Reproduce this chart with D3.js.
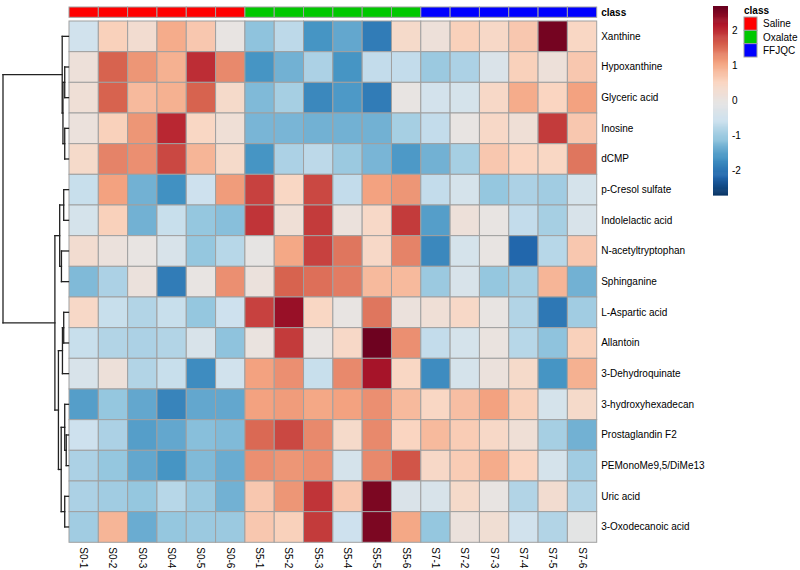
<!DOCTYPE html>
<html>
<head>
<meta charset="utf-8">
<script src="https://cdn.jsdelivr.net/npm/d3@7"></script>
<style>
  body { margin: 0; background: #fff; }
  text { font-family: "Liberation Sans", Arial, sans-serif; }
</style>
</head>
<body>
<svg id="chart" width="800" height="570"></svg>
<script>
// ---------------- data ----------------
const columns = ["S0-1","S0-2","S0-3","S0-4","S0-5","S0-6",
                 "S5-1","S5-2","S5-3","S5-4","S5-5","S5-6",
                 "S7-1","S7-2","S7-3","S7-4","S7-5","S7-6"];
const columnClass = ["Saline","Saline","Saline","Saline","Saline","Saline",
                     "Oxalate","Oxalate","Oxalate","Oxalate","Oxalate","Oxalate",
                     "FFJQC","FFJQC","FFJQC","FFJQC","FFJQC","FFJQC"];
const classNames = ["Saline","Oxalate","FFJQC"];
const classColors = ["#FF0000","#00C800","#0000FF"];
const rowsLabels = ["Xanthine","Hypoxanthine","Glyceric acid","Inosine","dCMP",
  "p-Cresol sulfate","Indolelactic acid","N-acetyltryptophan","Sphinganine",
  "L-Aspartic acid","Allantoin","3-Dehydroquinate","3-hydroxyhexadecan",
  "Prostaglandin F2","PEMonoMe9,5/DiMe13","Uric acid","3-Oxodecanoic acid"];
const values = [
  [-0.5, 0.6, 0.3, 1.0, 0.7, 0.0, -1.1,-0.7,-1.6,-1.4,-1.9, 0.4,  0.15, 0.6, 0.45, 0.7, 2.6, 0.5],
  [0.15, 1.6, 1.2, 0.95, 2.0, 1.3, -1.6,-1.3,-0.85,-1.6,-0.65,-0.65, -1.0,-0.85,-0.3, 0.6, 0.15, 0.7],
  [0.2, 1.6, 0.85, 0.95, 1.6, 0.4, -1.2,-0.9,-1.75,-1.55,-1.9, 0.0, -0.45,-0.4, 0.45, 1.0, 0.55, 1.1],
  [0.1, 0.6, 1.2, 2.05, 0.5, 0.2, -1.25,-1.25,-1.3,-1.3,-1.3,-0.9, -0.65, 0.0, 0.45, 0.2, 1.9, 0.7],
  [0.4, 1.35, 1.25, 1.8, 0.9, 0.4, -1.6,-0.85,-0.7,-1.0,-1.25,-1.55, -1.3,-0.9, 0.7, 0.55, 0.5, 1.45],
  [-0.6, 1.1,-1.3,-1.65,-0.55, 1.15, 1.85, 0.5, 1.8,-0.65, 1.1, 1.2, -0.65,-0.4,-1.05,-0.85,-0.95,-0.4],
  [-0.4, 0.6,-1.3,-0.6,-1.05,-1.15, 1.95, 0.2, 1.9, 0.1, 0.45, 1.9, -1.5, 0.15, 0.0,-0.65,-0.9,-0.35],
  [0.3, 0.1, 0.0,-0.35,-1.05,-0.75, -0.05, 1.05, 1.85, 1.45, 0.45, 1.35, -1.75,-0.4, 0.0,-2.15,-0.75, 0.7],
  [-1.2,-0.85, 0.1,-1.9, 0.0, 1.25, 0.1, 1.6, 1.5, 1.4, 0.85, 0.85, -1.0,-0.35,-1.05,-0.9, 0.9,-1.3],
  [0.45,-0.6,-0.8,-0.6,-1.05,-0.55, 1.85, 2.35, 0.5, 0.0, 1.45, 0.1, 0.2, 0.45, 0.0,-0.8,-1.95,-0.95],
  [-0.6,-0.8,-0.85,-0.8,-0.35,-1.1, 0.05, 1.9, 0.0, 0.45, 2.65, 1.25, -0.65,-0.4, 0.05,-0.75,-1.1, 0.6],
  [-0.35, 0.15,-0.8,-0.6,-1.7,-0.5, 1.1, 1.25,-0.6, 1.3, 2.25, 0.5, -1.7,-0.4, 0.1, 0.4,-1.6, 0.95],
  [-1.5,-1.05,-1.4,-1.8,-1.4,-1.4, 1.1, 1.15, 1.05, 1.1, 1.25, 0.85, 0.5, 0.8, 1.1, 0.6,-0.4, 0.4],
  [-0.55,-0.85,-1.5,-1.4,-1.15,-1.2, 1.55, 1.8, 1.3, 0.4, 1.3, 0.55, 0.85, 0.65, 0.45, 0.2,-0.9,-1.3],
  [-0.85,-1.05,-1.4,-1.6,-1.2,-1.35, 1.25, 1.2, 1.25,-0.4, 1.3, 1.7, 0.45, 0.65, 1.0, 0.55,-0.4,-0.95],
  [-0.85,-0.95,-1.05,-0.75,-1.0,-1.3, 0.7, 1.2, 1.95, 0.7, 2.55,-0.3, -0.35, 0.4, 0.0,-0.8, 0.3,-0.8],
  [-0.95, 0.9,-1.35,-1.05,-1.0,-1.0, 0.7, 0.6, 1.9,-0.55, 2.55, 1.05, -1.05, 0.1, 0.25,-0.5,-0.8,-0.1]
];
// row dendrogram, hclust-style merges: negative = leaf (1-based row), positive = earlier merge
const merges = [
  [-2, -3, 1.5],   // 1
  [-4, -5, 1.5],   // 2
  [1, 2, 2.2],     // 3
  [-1, 3, 2.5],    // 4
  [-6, -7, 1.9],   // 5
  [-8, -9, 2.8],   // 6
  [5, 6, 3.5],     // 7
  [-10, -11, 1.9], // 8
  [8, -12, 2.4],   // 9
  [-14, -15, 0.9], // 10
  [-13, 10, 1.5],  // 11
  [-16, -17, 1.5], // 12
  [11, 12, 2.9],   // 13
  [9, 13, 4.0],    // 14
  [7, 14, 5.4],    // 15
  [4, 15, 26.0]    // 16
];
const legendTicks = [-2, -1, 0, 1, 2];
const palette = ["#053061","#2166AC","#4393C3","#92C5DE","#CFE2EE","#E8E4E2",
                 "#FAD6C2","#F4A582","#D6604D","#B2182B","#67001F"];
const colorMax = 2.7;

// ---------------- drawing ----------------
const svg = d3.select("#chart");
const hmLeft = 69, hmRight = 596.7, hmTop = 21, hmBottom = 542.3;

const x = d3.scaleBand().domain(columns).range([hmLeft, hmRight]);
const y = d3.scaleBand().domain(rowsLabels).range([hmTop, hmBottom]);
const color = d3.scaleLinear()
  .domain(d3.range(palette.length).map(i => -colorMax + i * 2 * colorMax / (palette.length - 1)))
  .range(palette).clamp(true);
const classColor = d3.scaleOrdinal().domain(classNames).range(classColors);

// cells
const cells = [];
values.forEach((row, i) => row.forEach((v, j) => cells.push({r: rowsLabels[i], c: columns[j], v})));
svg.append("g").selectAll("rect").data(cells).join("rect")
  .attr("x", d => x(d.c)).attr("y", d => y(d.r))
  .attr("width", x.bandwidth()).attr("height", y.bandwidth())
  .attr("fill", d => color(d.v))
  .attr("stroke", "#A0A0A0").attr("stroke-width", 1);

// class annotation bar
const annTop = 7, annH = 10.3;
svg.append("g").selectAll("rect").data(columns).join("rect")
  .attr("x", d => x(d)).attr("y", annTop)
  .attr("width", x.bandwidth()).attr("height", annH)
  .attr("fill", (d, i) => classColor(columnClass[i]))
  .attr("stroke", "#A0A0A0").attr("stroke-width", 1);
svg.append("text").attr("x", hmRight + 4.5).attr("y", annTop + annH / 2)
  .attr("dominant-baseline", "central").attr("font-size", 10).attr("font-weight", "bold")
  .text("class");

// row labels
svg.append("g").selectAll("text").data(rowsLabels).join("text")
  .attr("x", hmRight + 4.5).attr("y", d => y(d) + y.bandwidth() / 2)
  .attr("dominant-baseline", "central").attr("font-size", 10).attr("fill", "#000")
  .text(d => d);

// column labels
svg.append("g").selectAll("text").data(columns).join("text")
  .attr("transform", d => `translate(${x(d) + x.bandwidth() / 2},${hmBottom + 5}) rotate(90)`)
  .attr("dominant-baseline", "central").attr("font-size", 10).attr("fill", "#000")
  .text(d => d);

// row dendrogram
const hScale = d3.scaleLinear().domain([0, d3.max(merges, m => m[2])]).range([68.5, 3]);
const nodes = [];
function nodeInfo(id) {
  if (id < 0) {
    const lab = rowsLabels[-id - 1];
    return {y: y(lab) + y.bandwidth() / 2, h: 0};
  }
  return nodes[id - 1];
}
const segs = [];
merges.forEach(([a, b, h]) => {
  const na = nodeInfo(a), nb = nodeInfo(b);
  const xh = hScale(h);
  segs.push([xh, na.y, xh, nb.y]);
  segs.push([xh, na.y, hScale(na.h), na.y]);
  segs.push([xh, nb.y, hScale(nb.h), nb.y]);
  nodes.push({y: (na.y + nb.y) / 2, h});
});
svg.append("g").selectAll("line").data(segs).join("line")
  .attr("x1", d => d[0]).attr("y1", d => d[1]).attr("x2", d => d[2]).attr("y2", d => d[3])
  .attr("stroke", "#222").attr("stroke-width", 1.3).attr("stroke-linecap", "square");

// color legend
const legX = 713, legW = 15, legTop = 6, legBottom = 195;
const ly = d3.scaleLinear().domain([-colorMax, colorMax]).range([legBottom, legTop]);
const steps = d3.range(0, 200);
svg.append("g").selectAll("rect").data(steps).join("rect")
  .attr("x", legX).attr("width", legW)
  .attr("y", i => ly(-colorMax + (i + 1) * 2 * colorMax / steps.length))
  .attr("height", (legBottom - legTop) / steps.length + 0.6)
  .attr("fill", i => color(-colorMax + (i + 0.5) * 2 * colorMax / steps.length));
const legAxis = svg.append("g").attr("transform", `translate(${legX + legW},0)`)
  .call(d3.axisRight(ly).tickValues(legendTicks).tickSize(0).tickPadding(4).tickFormat(d => String(d)));
legAxis.select(".domain").remove();
legAxis.selectAll("text").attr("font-size", 10).attr("font-family", "Liberation Sans, Arial, sans-serif").attr("fill", "#000");

// class legend
const cl = svg.append("g");
cl.append("text").attr("x", 744).attr("y", 10).attr("dominant-baseline", "central")
  .attr("font-size", 10).attr("font-weight", "bold").text("class");
const boxY = d3.scaleBand().domain(classNames).range([17, 57]);
cl.selectAll("rect").data(classNames).join("rect")
  .attr("x", 744).attr("y", d => boxY(d)).attr("width", 13).attr("height", boxY.bandwidth())
  .attr("fill", d => classColor(d)).attr("stroke", "#A0A0A0").attr("stroke-width", 1);
cl.selectAll("text.lab").data(classNames).join("text").attr("class", "lab")
  .attr("x", 763).attr("y", d => boxY(d) + boxY.bandwidth() / 2)
  .attr("dominant-baseline", "central").attr("font-size", 10).text(d => d);
</script>
</body>
</html>
